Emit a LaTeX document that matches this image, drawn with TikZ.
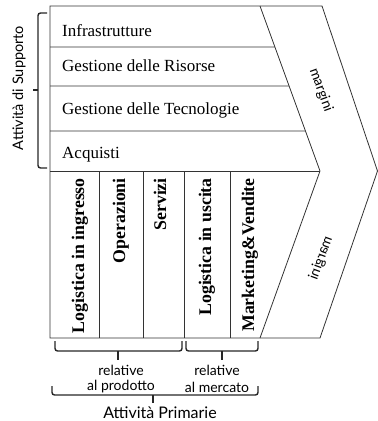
\documentclass[tikz,border=0pt]{standalone}
\usepackage{fontspec}
\setmainfont{Liberation Serif}
\newfontfamily\handfont{Lato}
\usetikzlibrary{calc}

\begin{document}
\begin{tikzpicture}[x=1pt,y=-1pt,
  frame/.style={draw=black!80, line width=0.8pt},
  bracket/.style={draw=black!85, line width=1.4pt, rounded corners=2.5pt},
  suptext/.style={anchor=base west, inner sep=0pt, font=\fontsize{17}{19}\selectfont},
  primtext/.style={rotate=90, anchor=base east, inner sep=0pt, font=\bfseries\fontsize{17.8}{19}\selectfont},
  hand/.style={inner sep=0pt, font=\handfont\fontsize{14}{15}\selectfont},
]
\useasboundingbox (0,0) rectangle (378,421);

% corners of the chevron
\coordinate (TL) at (50,6);
\coordinate (TI) at (260,6);
\coordinate (TO) at (322,6);
\coordinate (ML) at (50,171);
\coordinate (MI) at (320,171);
\coordinate (MO) at (377.5,171);
\coordinate (BL) at (50,338);
\coordinate (BI) at (260,338);
\coordinate (BO) at (320,338);

% outline, margin band and the split between support and primary activities
\draw[frame] (TL) -- (TO) -- (MO) -- (BO) -- (BL) -- cycle;
\draw[frame] (TI) -- (MI) -- (BI);
\draw[frame] (ML) -- (MI);

% rows of the support activities
\foreach \y in {47,86,131}
  \draw[frame] (50,\y) -- ($(TI)!{(\y-6)/165}!(MI)$);

% columns of the primary activities
\foreach \x in {99,143,184,230}
  \draw[frame] (\x,171) -- (\x,338);

% support activities
\node[suptext] (infra) at (62,36) {Infrastrutture};
\node[suptext] (risorse) at (62,71) {Gestione delle Risorse};
\node[suptext] (tecno) at (62,114) {Gestione delle Tecnologie};
\node[suptext] (acq) at (62,158) {Acquisti};

% primary activities
\node[primtext] (login) at (84,178) {Logistica in ingresso};
\node[primtext] (oper) at (125,178) {Operazioni};
\node[primtext] (serv) at (166,178) {Servizi};
\node[primtext] (logout) at (211,178) {Logistica in uscita};
\node[primtext] (mark) at (254,178) {Marketing\&Vendite};

% margin labels
\node[hand, rotate=-70] (margsup) at (321,90) {margini};
\node[hand, rotate=70] (margprim) at (321,258) {\reflectbox{margini}};

% bracket of the support activities
\draw[bracket] (47,13) -- (38,13) -- (38,168) -- (47,168);
\draw[bracket] (38,90) -- (33,90);
\node[hand, rotate=90, font=\handfont\fontsize{14.5}{16}\selectfont] (supp) at (19,88) {Attività di Supporto};

% brackets of the primary activities
\draw[bracket] (55,341) -- (55,351) -- (182,351) -- (182,341);
\draw[bracket] (118,351) -- (118,360);
\draw[bracket] (186,341) -- (186,351) -- (258,351) -- (258,341);
\draw[bracket] (222,351) -- (222,360);
\draw[bracket] (52,386) -- (52,395) -- (258,395) -- (258,386);
\draw[bracket] (153,395) -- (153,403);

\node[hand] (relp1) at (121,370) {relative};
\node[hand] (relp2) at (121,387) {al prodotto};
\node[hand] (relm1) at (217,370) {relative};
\node[hand] (relm2) at (217,387) {al mercato};
\node[hand, font=\handfont\fontsize{16}{17}\selectfont] (prim) at (160,413) {Attività Primarie};
\end{tikzpicture}
\end{document}
